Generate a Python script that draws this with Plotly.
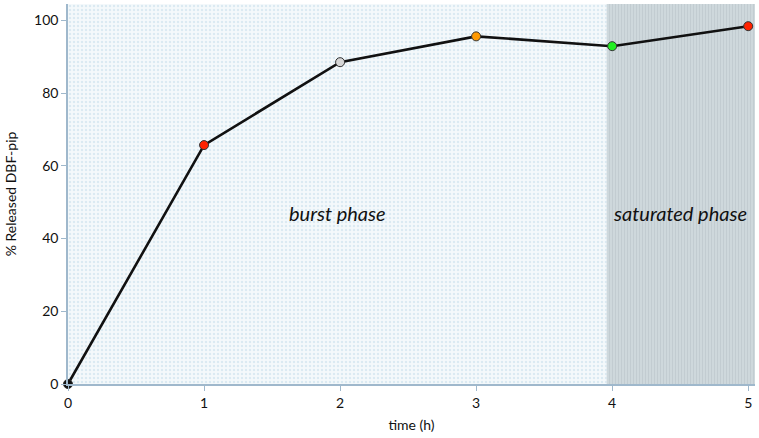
import plotly.graph_objects as go

time_h = [0, 1, 2, 3, 4, 5]
released = [0, 65.7, 88.5, 95.6, 92.9, 98.4]
marker_colors = ["#111111", "#ff2200", "#d6d6d6", "#ff9900", "#22ee22", "#ff2200"]

phase_names = ["burst phase", "saturated phase"]
phase_start = [0, 3.96]
phase_end = [3.96, 5.05]
phase_label_x = [1.98, 4.5]
phase_label_y = [47, 47]
y_top = 104.5

x_ticks = [0, 1, 2, 3, 4, 5]
y_ticks = [0, 20, 40, 60, 80, 100]

FONT = "Lato"

fig = go.Figure()

# burst phase region (dotted light blue)
fig.add_trace(go.Scatter(
    x=[phase_start[0], phase_end[0], phase_end[0], phase_start[0], phase_start[0]],
    y=[0, 0, y_top, y_top, 0],
    mode="none", fill="toself", fillcolor="#eef5f9",
    fillpattern=dict(shape=".", fgcolor="#c2dae8", bgcolor="#f4f9fb", size=4, solidity=0.3),
    hoverinfo="skip", showlegend=False,
))
# saturated phase region (grey vertical stripes)
fig.add_trace(go.Scatter(
    x=[phase_start[1], phase_end[1], phase_end[1], phase_start[1], phase_start[1]],
    y=[0, 0, y_top, y_top, 0],
    mode="none", fill="toself", fillcolor="#c8d2d6",
    fillpattern=dict(shape="|", fgcolor="#b4c0c6", bgcolor="#d0d9dd", size=3, solidity=0.4),
    hoverinfo="skip", showlegend=False,
))

fig.add_trace(go.Scatter(
    x=time_h, y=released, mode="lines+markers",
    line=dict(color="#111111", width=2.6),
    marker=dict(size=9, color=marker_colors, line=dict(color="#333333", width=1)),
    cliponaxis=False, showlegend=False,
))

for name, lx, ly in zip(phase_names, phase_label_x, phase_label_y):
    fig.add_annotation(x=lx, y=ly, text=f"<i>{name}</i>", showarrow=False,
                       font=dict(family=FONT, size=20, color="#111111"))

fig.update_layout(
    width=759, height=438,
    margin=dict(l=68, r=4, t=4, b=54, autoexpand=False),
    paper_bgcolor="white", plot_bgcolor="white",
    font=dict(family=FONT, color="#111111"),
)
fig.update_xaxes(
    range=[0, phase_end[1]], tickvals=x_ticks, ticktext=[str(t) for t in x_ticks],
    showgrid=False, zeroline=False, showline=True, linecolor="#9fb8cc", linewidth=1.5,
    ticks="outside", ticklen=5, tickcolor="#9fb8cc", tickfont=dict(size=14),
    title=dict(text="time (h)", font=dict(size=14), standoff=11),
    automargin=False,
)
fig.update_yaxes(
    range=[0, y_top], tickvals=y_ticks,
    showgrid=False, zeroline=False, showline=True, linecolor="#9fb8cc", linewidth=1.5,
    ticks="outside", ticklen=5, tickcolor="#9fb8cc", tickfont=dict(size=14),
    title=dict(text="% Released DBF-pip", font=dict(size=14), standoff=14),
    automargin=False,
)

fig.write_html("out.html", config={"displayModeBar": False},
               post_script="document.body.style.margin='0';")
